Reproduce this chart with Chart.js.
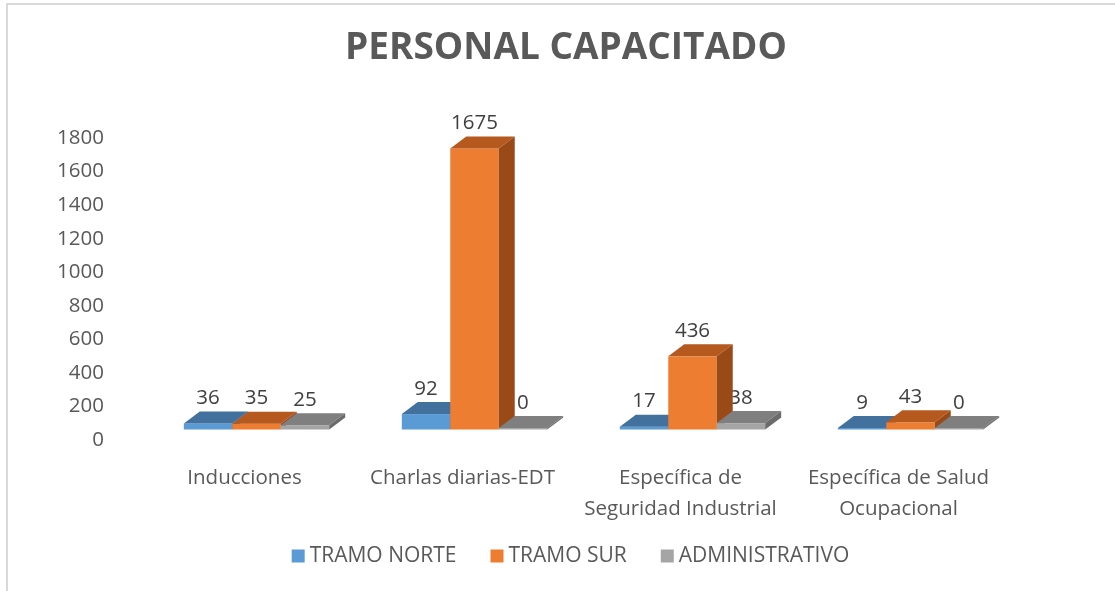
<!DOCTYPE html>
<html>
<head>
<meta charset="utf-8">
<script src="https://cdn.jsdelivr.net/npm/chart.js@4.4.1/dist/chart.umd.min.js"></script>
<style>
  html, body { margin: 0; padding: 0; background: #fff; overflow: hidden; }
  #frame { position: absolute; left: 6px; top: 3px; width: 1300px; height: 800px;
           border-left: 2px solid #d9d9d9; border-top: 2px solid #d9d9d9; }
  #chart { position: absolute; left: 0; top: 0; }
</style>
</head>
<body>
<div id="frame"></div>
<canvas id="chart" width="1115" height="591"></canvas>
<script>
// data
const categories = [
  "Inducciones",
  "Charlas diarias-EDT",
  ["Específica de", "Seguridad Industrial"],
  ["Específica de Salud", "Ocupacional"]
];
const seriesNames = ["TRAMO NORTE", "TRAMO SUR", "ADMINISTRATIVO"];
const tramoNorte = [36, 92, 17, 9];
const tramoSur = [35, 1675, 436, 43];
const administrativo = [25, 0, 38, 0];
const yMax = 1800;
const yStep = 200;

// face colours (front, top, side)
const frontColors = ["#5B9BD5", "#ED7D31", "#A5A5A5"];
const topColors = ["#41719C", "#B5591F", "#7F7F7F"];
const sideColors = ["#3A6791", "#9A4A17", "#6B6B6B"];

const DX = 16, DY = 12;   // depth of the boxes
const LIFT = 10.5;        // floor sits a bit above the 0 tick
const SHIFT = 12;         // boxes sit a bit right of the labels

const font = '"Open Sans", "Noto Sans", sans-serif';

const bars3d = {
  id: "bars3d",
  beforeDatasetsDraw() {
    return false; // drawn by hand below
  },
  afterDraw(chart) {
    const ctx = chart.ctx;
    const sets = chart.data.datasets;
    const metas = sets.map((d, i) => chart.getDatasetMeta(i));

    // value labels first, so the boxes may cover them like in Excel
    ctx.save();
    ctx.font = "20.5px " + font;
    ctx.fillStyle = "#404040";
    ctx.textAlign = "center";
    ctx.textBaseline = "middle";
    metas.forEach((meta, i) => {
      meta.data.forEach((bar, j) => {
        const yt = Math.min(bar.y, bar.base - 1.5) - LIFT;
        ctx.fillText(String(sets[i].data[j]), bar.x + SHIFT, yt - DY - 13);
      });
    });

    // boxes, left to right
    categories.forEach((c, j) => {
      metas.forEach((meta, i) => {
        const bar = meta.data[j];
        const half = bar.width / 2;
        const x0 = bar.x + SHIFT - half;
        const x1 = bar.x + SHIFT + half;
        const yb = bar.base - LIFT;
        const yt = Math.min(bar.y, bar.base - 1.5) - LIFT;

        ctx.fillStyle = frontColors[i];
        ctx.fillRect(x0, yt, x1 - x0, yb - yt);

        ctx.fillStyle = topColors[i];
        ctx.beginPath();
        ctx.moveTo(x0, yt);
        ctx.lineTo(x0 + DX, yt - DY);
        ctx.lineTo(x1 + DX, yt - DY);
        ctx.lineTo(x1, yt);
        ctx.closePath();
        ctx.fill();

        ctx.fillStyle = sideColors[i];
        ctx.beginPath();
        ctx.moveTo(x1, yt);
        ctx.lineTo(x1 + DX, yt - DY);
        ctx.lineTo(x1 + DX, yb - DY);
        ctx.lineTo(x1, yb);
        ctx.closePath();
        ctx.fill();
      });
    });

    // title
    ctx.font = "bold 37px " + font;
    ctx.fillStyle = "#595959";
    ctx.textAlign = "center";
    ctx.fillText("PERSONAL CAPACITADO", 566, 48);

    // legend
    ctx.font = "21px " + font;
    const BOX = 13, GAP1 = 5, GAP2 = 34;
    const widths = seriesNames.map((n) => ctx.measureText(n).width);
    const total = widths.reduce((a, w) => a + BOX + GAP1 + w, 0) + GAP2 * (widths.length - 1);
    let x = 570.5 - total / 2;
    const ly = 556;
    ctx.textAlign = "left";
    seriesNames.forEach((n, i) => {
      ctx.fillStyle = frontColors[i];
      ctx.fillRect(x, ly - BOX / 2, BOX, BOX);
      x += BOX + GAP1;
      ctx.fillStyle = "#595959";
      ctx.fillText(n, x, ly);
      x += widths[i] + GAP2;
    });
    ctx.restore();
  }
};

const ctx = document.getElementById("chart");
const myChart = new Chart(ctx, {
  type: "bar",
  data: {
    labels: categories,
    datasets: [
      { label: seriesNames[0], data: tramoNorte, backgroundColor: frontColors[0] },
      { label: seriesNames[1], data: tramoSur, backgroundColor: frontColors[1] },
      { label: seriesNames[2], data: administrativo, backgroundColor: frontColors[2] }
    ]
  },
  options: {
    responsive: false,
    animation: false,
    devicePixelRatio: 1,
    categoryPercentage: 0.667,
    barPercentage: 1.0,
    layout: { padding: { top: 138, left: 10, right: 107.5, bottom: 51 } },
    plugins: {
      legend: { display: false },
      title: { display: false },
      tooltip: { enabled: false }
    },
    scales: {
      x: {
        grid: { display: false },
        border: { display: false },
        ticks: {
          padding: 15,
          color: "#595959",
          font: { family: font, size: 20.5, lineHeight: 1.5 },
          maxRotation: 0,
          autoSkip: false
        },
        afterFit: (scale) => { scale.height = 100; }
      },
      y: {
        min: 0,
        max: yMax,
        grid: { display: false },
        border: { display: false },
        ticks: {
          stepSize: yStep,
          padding: 23.5,
          color: "#595959",
          font: { family: font, size: 20.5 },
          callback: (v) => String(v)
        },
        afterFit: (scale) => { scale.width = 125.5; }
      }
    }
  },
  plugins: [bars3d]
});
</script>
</body>
</html>
